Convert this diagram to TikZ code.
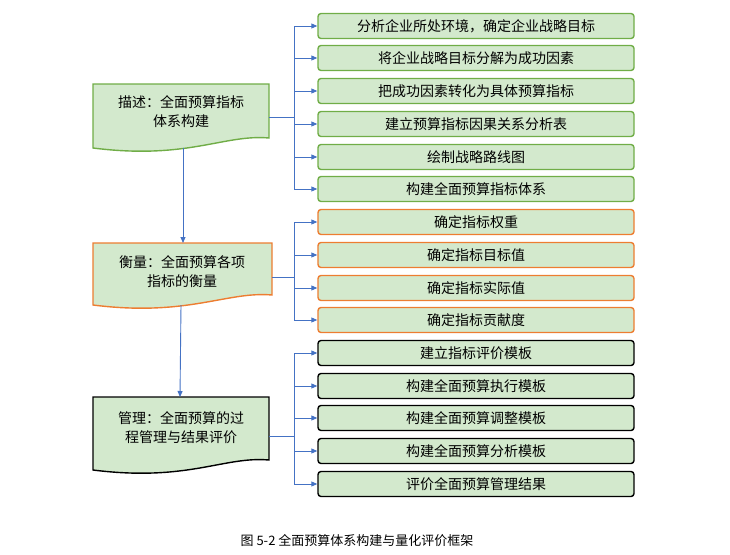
\documentclass[tikz,border=0pt]{standalone}
\usepackage{fontspec}
\setmainfont{Noto Sans CJK SC}
\usetikzlibrary{arrows.meta}
\definecolor{fillg}{HTML}{D3E9CD}
\definecolor{bg}{HTML}{70AD47}
\definecolor{bo}{HTML}{ED7D31}
\definecolor{ab}{HTML}{4472C4}
\begin{document}
\begin{tikzpicture}[x=1pt,y=-1pt,
  rb/.style={draw=#1,fill=fillg,rounded corners=3pt,line width=1.4pt,minimum width=316pt,minimum height=25pt,inner sep=0pt,font=\fontsize{14}{16}\selectfont},
  lt/.style={align=center,font=\fontsize{14}{19}\selectfont,inner sep=0pt},
  ar/.style={draw=ab,line width=0.9pt,-{Triangle[length=6pt,width=5pt]}},
  ln/.style={draw=ab,line width=0.9pt}]
\useasboundingbox (0,0) rectangle (730,554);
% document shapes
\newcommand\mydoc[5]{\draw[fill=fillg,draw=#5,line width=1.4pt] (#1,#3) -- (#2,#3) -- (#2,#4-10) .. controls ({#2-45},#4-14) and ({#1+95},#4+12) .. (#1,#4) -- cycle;}
\mydoc{93}{269}{84}{148}{bg}
\mydoc{93}{272}{243}{305}{bo}
\mydoc{93}{269}{397}{470}{black}
\node[lt] (d1) at (181,112) {描述：全面预算指标\\体系构建};
\node[lt] (d2) at (182,272) {衡量：全面预算各项\\指标的衡量};
\node[lt] (d3) at (181,428) {管理：全面预算的过\\程管理与结果评价};
\coordinate (d1r) at (269,117); \coordinate (d2r) at (272,277); \coordinate (d3r) at (269,436);
\coordinate (d1b) at (183,148); \coordinate (d2t) at (183,243);
\coordinate (d2b) at (181,305); \coordinate (d3t) at (180,397);
\foreach \i/\y/\c/\t in {1/26/bg/分析企业所处环境，确定企业战略目标,2/58/bg/将企业战略目标分解为成功因素,3/91/bg/把成功因素转化为具体预算指标,4/124/bg/建立预算指标因果关系分析表,5/157/bg/绘制战略路线图,6/189/bg/构建全面预算指标体系,7/222/bo/确定指标权重,8/255/bo/确定指标目标值,9/288/bo/确定指标实际值,10/320/bo/确定指标贡献度,11/353/black/建立指标评价模板,12/386/black/构建全面预算执行模板,13/418/black/构建全面预算调整模板,14/451/black/构建全面预算分析模板,15/484/black/评价全面预算管理结果}
  \node[rb=\c] (r\i) at (476,\y) {\t};
\coordinate (b1) at (294,117); \coordinate (b2) at (294,277); \coordinate (b3) at (294,436);
\draw[ln] (d1r) -- (b1); \draw[ln] (d2r) -- (b2); \draw[ln] (d3r) -- (b3);
\foreach \i in {1,...,6} \draw[ar] (b1) |- (r\i.west);
\foreach \i in {7,...,10} \draw[ar] (b2) |- (r\i.west);
\foreach \i in {11,...,15} \draw[ar] (b3) |- (r\i.west);
\draw[ar] (d1b) -- (d2t);
\draw[ar] (d2b) -- (d3t);
\node[font=\fontsize{13}{15}\selectfont] (cap) at (357,541) {图 5-2 全面预算体系构建与量化评价框架};
\end{tikzpicture}
\end{document}
